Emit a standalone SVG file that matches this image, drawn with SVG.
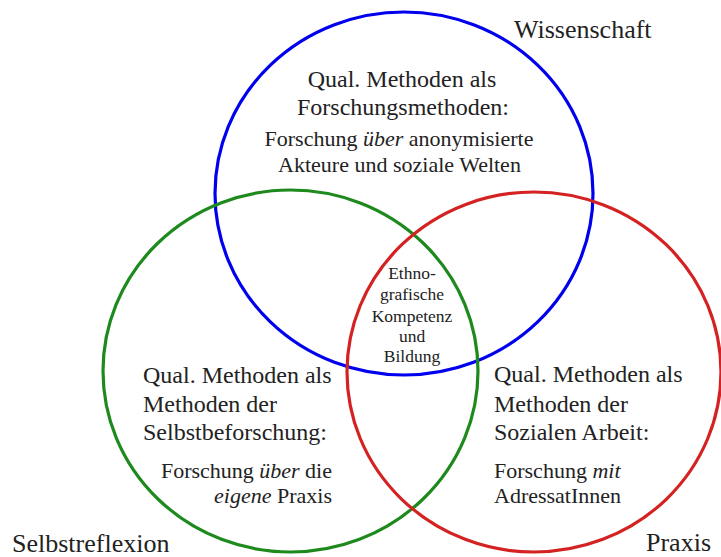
<svg xmlns="http://www.w3.org/2000/svg" width="721" height="557" viewBox="0 0 721 557">
<style>
text{fill:#222;}
.c{fill:none;stroke-width:3.2;}
.h{font-size:24px;}
.s{font-size:22px;}
.m{font-size:17.5px;text-anchor:middle;}
.l{font-size:26px;}
.mid{text-anchor:middle;}
.end{text-anchor:end;}
</style>
<rect width="721" height="557" fill="#fff"/>
<g id="connectors"></g>
<g font-family="Liberation Serif, Tinos, DejaVu Serif, serif">
<g id="wissenschaft">
<ellipse class="c" cx="404" cy="193.5" rx="189" ry="181.5" stroke="#0000ee"/>
<text class="h mid" x="402" y="87">Qual. Methoden als</text>
<text class="h mid" x="403" y="115">Forschungsmethoden:</text>
<text class="s mid" x="399" y="146">Forschung <tspan font-style="italic">über</tspan> anonymisierte</text>
<text class="s mid" x="399.5" y="172">Akteure und soziale Welten</text>
<text class="l" x="514" y="38">Wissenschaft</text>
</g>
<g id="selbstreflexion">
<ellipse class="c" cx="290.5" cy="371" rx="187.5" ry="181" stroke="#1e8a1e"/>
<text class="h" x="143" y="383">Qual. Methoden als</text>
<text class="h" x="143" y="412">Methoden der</text>
<text class="h" x="143" y="440">Selbstbeforschung:</text>
<text class="s end" x="332" y="478">Forschung <tspan font-style="italic">über</tspan> die</text>
<text class="s end" x="332" y="503"><tspan font-style="italic">eigene</tspan> Praxis</text>
<text class="l" x="12" y="552">Selbstreflexion</text>
</g>
<g id="praxis">
<ellipse class="c" cx="534" cy="372" rx="187" ry="180" stroke="#d42222"/>
<text class="h" x="494" y="382">Qual. Methoden als</text>
<text class="h" x="494" y="412">Methoden der</text>
<text class="h" x="494" y="440">Sozialen Arbeit:</text>
<text class="s" x="494" y="478">Forschung <tspan font-style="italic">mit</tspan></text>
<text class="s" x="494" y="503">AdressatInnen</text>
<text class="l" x="646" y="551">Praxis</text>
</g>
<g id="ethnografie">
<text class="m" x="412" y="279">Ethno-</text>
<text class="m" x="412" y="300">grafische</text>
<text class="m" x="412" y="321.5">Kompetenz</text>
<text class="m" x="412" y="341.5">und</text>
<text class="m" x="412" y="361.5">Bildung</text>
</g>
</g>
</svg>
